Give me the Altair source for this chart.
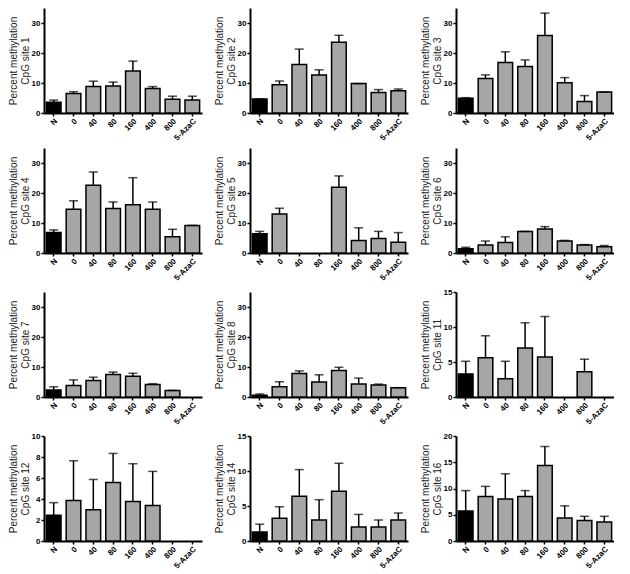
import altair as alt
import pandas as pd

categories = ["N", "0", "40", "80", "160", "400", "800", "5-AzaC"]
site_names = ["1", "2", "3", "4", "5", "6", "7", "8", "11", "12", "14", "16"]

# bar heights (mean) and upper error (SEM); None = no bar
mean_site1 = [3.6, 6.5, 8.8, 9.0, 14.0, 8.2, 4.6, 4.3]
err_site1 = [0.7, 0.6, 1.8, 1.3, 3.3, 0.6, 1.0, 1.3]
mean_site2 = [4.7, 9.4, 16.2, 12.7, 23.6, 9.8, 6.8, 7.4]
err_site2 = [0.0, 1.3, 5.1, 1.7, 2.3, 0.0, 1.0, 0.6]
mean_site3 = [4.9, 11.5, 16.8, 15.5, 25.8, 10.1, 3.8, 7.0]
err_site3 = [0.2, 1.2, 3.6, 2.2, 7.5, 1.7, 2.0, 0.0]
mean_site4 = [6.8, 14.6, 22.6, 14.8, 16.1, 14.6, 5.4, 9.2]
err_site4 = [0.9, 2.8, 4.4, 2.2, 9.0, 2.4, 2.5, 0.0]
mean_site5 = [6.4, 13.0, None, None, 21.9, 4.2, 4.8, 3.6]
err_site5 = [0.8, 1.9, None, None, 3.8, 4.2, 2.4, 3.2]
mean_site6 = [1.4, 2.7, 3.5, 7.2, 8.0, 4.0, 2.7, 2.1]
err_site6 = [0.5, 1.3, 1.9, 0.0, 0.8, 0.2, 0.1, 0.4]
mean_site7 = [2.3, 3.8, 5.5, 7.5, 6.9, 4.2, 2.2, None]
err_site7 = [1.1, 1.9, 1.1, 0.8, 1.0, 0.2, 0.0, None]
mean_site8 = [0.6, 3.4, 7.8, 5.0, 8.8, 4.3, 4.0, 3.1]
err_site8 = [0.4, 1.7, 0.9, 2.4, 1.1, 2.0, 0.3, 0.0]
mean_site11 = [3.3, 5.6, 2.6, 7.0, 5.7, None, 3.6, None]
err_site11 = [1.8, 3.15, 2.5, 3.6, 5.8, None, 1.8, None]
mean_site12 = [2.45, 3.86, 2.98, 5.58, 3.77, 3.37, None, None]
err_site12 = [1.2, 3.78, 2.88, 2.76, 3.59, 3.26, None, None]
mean_site14 = [1.3, 3.25, 6.4, 3.0, 7.1, 2.0, 2.0, 3.0]
err_site14 = [1.1, 1.65, 3.8, 2.9, 4.0, 1.8, 1.0, 1.0]
mean_site16 = [5.7, 8.5, 8.0, 8.5, 14.4, 4.4, 3.9, 3.6]
err_site16 = [3.9, 1.9, 4.8, 1.1, 3.6, 2.3, 0.8, 1.1]

y_max = [35, 35, 35, 35, 35, 35, 35, 35, 15, 10, 15, 20]
y_step = [10, 10, 10, 10, 10, 10, 10, 10, 5, 2, 5, 5]

means = [mean_site1, mean_site2, mean_site3, mean_site4, mean_site5, mean_site6,
         mean_site7, mean_site8, mean_site11, mean_site12, mean_site14, mean_site16]
errs = [err_site1, err_site2, err_site3, err_site4, err_site5, err_site6,
        err_site7, err_site8, err_site11, err_site12, err_site14, err_site16]

FONT = "Liberation Sans"
W, H = 158, 105


def panel(i):
    rows = []
    for c, m, e in zip(categories, means[i], errs[i]):
        if m is None:
            continue
        rows.append({"cat": c, "mean": m, "top": m + e})
    df = pd.DataFrame(rows)
    ymax = y_max[i]
    ticks = list(range(0, ymax + 1, y_step[i]))
    x = alt.X("cat:N", sort=categories,
              scale=alt.Scale(domain=categories, paddingInner=0.26, paddingOuter=0.12),
              axis=alt.Axis(title=None, labelAngle=-45))
    yscale = alt.Scale(domain=[0, ymax], nice=False)
    yaxis = alt.Axis(values=ticks, labelOverlap=False,
                     title=["Percent methylation", f"CpG site {site_names[i]}"])
    base = alt.Chart(df)
    bars = base.mark_bar(stroke="black", strokeWidth=1.5).encode(
        x=x,
        y=alt.Y("mean:Q", scale=yscale, axis=yaxis),
        color=alt.when(alt.datum.cat == "N").then(alt.value("black")).otherwise(alt.value("#a6a6a6")),
    )
    rule = base.mark_rule(color="black", strokeWidth=1.5).encode(
        x=x, y=alt.Y("mean:Q", scale=yscale, axis=yaxis), y2="top:Q")
    cap = base.mark_tick(color="black", size=9, thickness=1.5).encode(
        x=x, y=alt.Y("top:Q", scale=yscale, axis=yaxis))
    return alt.layer(bars, rule, cap).properties(width=W, height=H)


rows = []
for r in range(4):
    rows.append(alt.hconcat(*[panel(r * 3 + c) for c in range(3)], spacing=12))

chart = alt.vconcat(*rows, spacing=6).properties(
    padding={"left": 0, "top": 0, "right": 0, "bottom": 0}
).configure_view(stroke=None).configure_axis(
    labelFont=FONT, labelFontWeight="bold", labelFontSize=8, labelColor="black",
    titleFont=FONT, titleFontWeight="normal", titleFontSize=10, titleColor="#222222",
    titleLineHeight=12, titlePadding=1,
    domainColor="black", domainWidth=2, tickColor="black", tickWidth=1.5, tickSize=3,
    labelPadding=1, grid=False,
)

chart.save("out.html", embed_options={"renderer": "svg", "actions": False})
